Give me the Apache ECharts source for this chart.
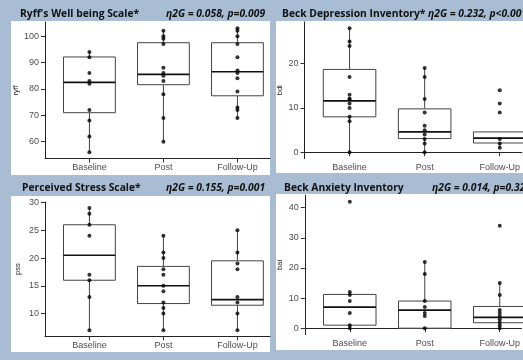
<!DOCTYPE html>
<html>
<head>
<meta charset="utf-8">
<script src="https://cdn.jsdelivr.net/npm/echarts@6/dist/echarts.min.js"></script>
<style>
html,body{margin:0;padding:0;background:#a8bdd4;}
#c{width:523px;height:360px;}
</style>
</head>
<body>
<div id="c"></div>
<script>
// ---- data ----
const categories = ['Baseline', 'Post', 'Follow-Up'];

// Ryff's Well being Scale
const ryffBaseline = [94, 92, 86, 83, 82, 72, 68, 62, 56];
const ryffPost = [102, 100, 99, 97, 88, 86, 85, 83, 78, 69, 60];
const ryffFollowUp = [103, 102, 100, 97, 92, 87, 86, 84, 79, 73, 72, 69];
// [low whisker, Q1, median, Q3, high whisker]
const ryffBox = [[56, 71, 82.5, 92.1, 94], [60, 81.6, 85.5, 97.5, 102], [69, 77.4, 86.5, 97.5, 103]];
const ryffTicks = [60, 70, 80, 90, 100];

// Beck Depression Inventory
const bdiBaseline = [28, 25, 24, 17, 13, 12, 12, 11, 10, 8, 7, 0];
const bdiPost = [19, 17, 12, 9, 6, 5, 4, 3, 2, 0];
const bdiFollowUp = [14, 11, 9, 3, 2, 1];
const bdiBox = [[0, 8, 11.6, 18.7, 28], [0, 3.1, 4.6, 9.8, 19], [1, 2.1, 3.2, 4.6, 4.6]];
const bdiTicks = [0, 10, 20];

// Perceived Stress Scale
const pssBaseline = [29, 28, 26, 24, 17, 16, 13, 7];
const pssPost = [24, 21, 20, 18, 17, 15, 14, 12, 11, 10, 7];
const pssFollowUp = [25, 21, 19, 18, 13, 12, 10, 7];
const pssBox = [[7, 16, 20.5, 26, 29], [7, 11.8, 15, 18.5, 24], [7, 11.5, 12.5, 19.5, 25]];
const pssTicks = [10, 15, 20, 25, 30];

// Beck Anxiety Inventory
const baiBaseline = [42, 12, 11, 9, 5, 1, 0];
const baiPost = [22, 18, 9, 7, 5, 4, 0];
const baiFollowUp = [34, 15, 11, 6, 5, 4, 3, 2, 1, 0];
const baiBox = [[0, 1, 7, 11.2, 12], [0, 0, 6, 9, 22], [0, 1.8, 3.6, 7.2, 15]];
const baiTicks = [0, 10, 20, 30, 40];

const panelTitles = ["Ryff's Well being Scale*", 'Beck Depression Inventory*', 'Perceived Stress Scale*', 'Beck Anxiety Inventory'];
const panelStats = ['η2G = 0.058, p=0.009', 'η2G = 0.232, p<0.001', 'η2G = 0.155, p=0.001', 'η2G = 0.014, p=0.325'];
const axisNames = ['ryff', 'bdi', 'pss', 'bai'];

// ---- layout ----
const panels = [
  {grid: {left: 45, top: 22, width: 225, height: 136.5}, xmax: 3.44, ymin: 53.65, ymax: 105.35, ticks: ryffTicks,
   groups: [ryffBaseline, ryffPost, ryffFollowUp], box: ryffBox, rect: [11, 21, 259, 154], title: [20, 14], stat: [166, 14]},
  {grid: {left: 304.5, top: 22, width: 290, height: 136.5}, xmax: 3.3, ymin: -1.4, ymax: 29.4, ticks: bdiTicks,
   groups: [bdiBaseline, bdiPost, bdiFollowUp], box: bdiBox, rect: [276, 21, 260, 152], title: [282, 14], stat: [428, 14]},
  {grid: {left: 45, top: 202, width: 225, height: 134.3}, xmax: 3.44, ymin: 5.9, ymax: 30.1, ticks: pssTicks,
   groups: [pssBaseline, pssPost, pssFollowUp], box: pssBox, rect: [11, 196, 259, 156], title: [22, 188], stat: [166, 188]},
  {grid: {left: 304.8, top: 195.3, width: 290, height: 139.2}, xmax: 3.28, ymin: -2.1, ymax: 44.1, ticks: baiTicks,
   groups: [baiBaseline, baiPost, baiFollowUp], box: baiBox, rect: [276, 194, 260, 156], title: [284, 188], stat: [432, 188]}
];

const grids = [], xAxes = [], yAxes = [], series = [], graphics = [];
panels.forEach((p, i) => {
  grids.push(Object.assign({containLabel: false}, p.grid));
  xAxes.push({
    type: 'value', gridIndex: i, min: 0.4, max: i % 2 === 1 ? 0.4 + (523 - p.grid.left) / 75.5 : p.xmax,
    splitLine: {show: false},
    axisLine: {show: true, lineStyle: {color: '#222', width: 1}},
    axisTick: {show: true, length: 4, lineStyle: {color: '#333'}, customValues: [1, 2, 3]},
    axisLabel: {show: true, customValues: [1, 2, 3], formatter: v => categories[Math.round(v) - 1] || '',
      color: '#4d4d4d', fontSize: 9, fontFamily: 'Liberation Sans', margin: 5, showMinLabel: true, showMaxLabel: true}
  });
  yAxes.push({
    type: 'value', gridIndex: i, min: p.ymin, max: p.ymax,
    splitLine: {show: false},
    name: axisNames[i], nameLocation: 'middle', nameRotate: 90, nameGap: i % 2 === 0 ? 23 : 21,
    nameTextStyle: {fontSize: 7.5, color: '#222', fontFamily: 'Liberation Sans'},
    axisLine: {show: true, lineStyle: {color: '#222', width: 1}},
    axisTick: {show: true, length: 4, lineStyle: {color: '#333'}, customValues: p.ticks},
    axisLabel: {show: true, customValues: p.ticks, color: '#4d4d4d', fontSize: 9, fontFamily: 'Liberation Sans', margin: 6}
  });
  series.push({
    type: 'custom', xAxisIndex: i, yAxisIndex: i, z: 3,
    data: p.box.map((b, k) => [k + 1].concat(b)),
    renderItem: function (params, api) {
      const x = api.value(0);
      const lo = api.coord([x, api.value(1)]);
      const q1 = api.coord([x, api.value(2)]);
      const md = api.coord([x, api.value(3)]);
      const q3 = api.coord([x, api.value(4)]);
      const hi = api.coord([x, api.value(5)]);
      const w = api.size([0.7, 0])[0];
      const stroke = {stroke: '#444', lineWidth: 1};
      return {type: 'group', children: [
        {type: 'line', shape: {x1: hi[0], y1: hi[1], x2: q3[0], y2: q3[1]}, style: stroke},
        {type: 'line', shape: {x1: q1[0], y1: q1[1], x2: lo[0], y2: lo[1]}, style: stroke},
        {type: 'rect', shape: {x: q3[0] - w / 2, y: q3[1], width: w, height: q1[1] - q3[1]}, style: {fill: '#fff', stroke: '#444', lineWidth: 1}},
        {type: 'line', shape: {x1: md[0] - w / 2, y1: md[1], x2: md[0] + w / 2, y2: md[1]}, style: {stroke: '#111', lineWidth: 1.6}}
      ]};
    }
  });
  p.groups.forEach((g, k) => {
    series.push({
      type: 'scatter', xAxisIndex: i, yAxisIndex: i, z: 5,
      symbol: 'circle', symbolSize: 4, itemStyle: {color: '#000'},
      data: g.map(v => [k + 1, v])
    });
  });
  graphics.push({type: 'rect', z: -100, silent: true,
    shape: {x: p.rect[0], y: p.rect[1], width: p.rect[2], height: p.rect[3]}, style: {fill: '#fff'}});
  graphics.push({type: 'text', z: 100, x: p.title[0], y: p.title[1],
    style: {text: panelTitles[i], fill: '#111', font: 'bold 10.3px "Open Sans"', textVerticalAlign: 'middle'}});
  graphics.push({type: 'text', z: 100, x: p.stat[0], y: p.stat[1],
    style: {text: panelStats[i], fill: '#111', font: 'italic bold 10.3px "Open Sans"', textVerticalAlign: 'middle'}});
});

const chart = echarts.init(document.getElementById('c'), null, {renderer: 'canvas'});
chart.setOption({
  backgroundColor: '#a8bdd4',
  animation: false,
  grid: grids,
  xAxis: xAxes,
  yAxis: yAxes,
  series: series,
  graphic: {elements: graphics}
});
</script>
</body>
</html>
